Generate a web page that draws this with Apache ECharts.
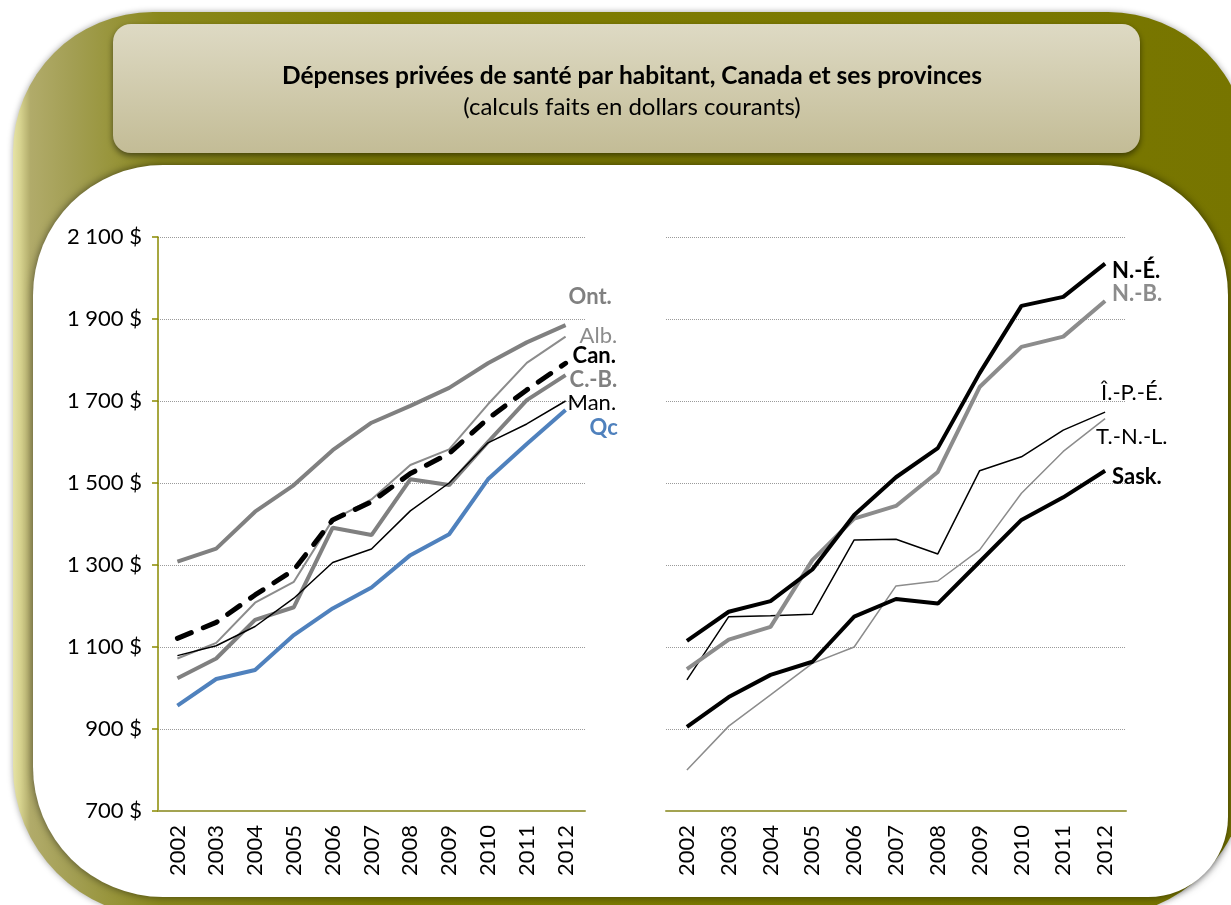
<!DOCTYPE html>
<html>
<head>
<meta charset="utf-8">
<title>Dépenses privées de santé par habitant</title>
<script src="https://cdn.jsdelivr.net/npm/echarts@6/dist/echarts.min.js"></script>
<style>
  html, body { margin: 0; padding: 0; background: #fff; }
  #main { width: 1231px; height: 905px; }
</style>
</head>
<body>
<div id="main"></div>
<script>
  // années
  const years = ['2002', '2003', '2004', '2005', '2006', '2007', '2008', '2009', '2010', '2011', '2012'];

  // graphique de gauche
  const ont = [1308, 1340, 1430, 1495, 1580, 1647, 1688, 1732, 1792, 1843, 1885];
  const alb = [1072, 1110, 1208, 1259, 1410, 1460, 1544, 1582, 1692, 1793, 1857];
  const can = [1121, 1160, 1227, 1288, 1410, 1454, 1523, 1572, 1657, 1727, 1792];
  const cb = [1024, 1072, 1166, 1197, 1391, 1373, 1509, 1495, 1600, 1702, 1763];
  const man = [1079, 1103, 1150, 1219, 1306, 1339, 1432, 1500, 1598, 1644, 1700];
  const qc = [957, 1022, 1044, 1129, 1194, 1245, 1324, 1375, 1509, 1595, 1678];

  // graphique de droite
  const ne = [1115, 1186, 1212, 1289, 1422, 1514, 1585, 1768, 1932, 1954, 2035];
  const nb = [1046, 1118, 1149, 1312, 1413, 1444, 1527, 1734, 1832, 1857, 1944];
  const ipe = [1020, 1174, 1176, 1180, 1361, 1363, 1327, 1530, 1564, 1629, 1673];
  const tnl = [800, 907, 983, 1060, 1100, 1249, 1261, 1337, 1475, 1577, 1657];
  const sask = [905, 978, 1032, 1064, 1174, 1217, 1206, 1308, 1410, 1465, 1530];

  const FONT = 'Lato';
  const olive = '#8a8a00';

  var chartDom = document.getElementById('main');
  var myChart = echarts.init(chartDom);

  function fmtDollar(v) {
    let s = v >= 1000 ? Math.floor(v / 1000) + ' ' + String(v % 1000).padStart(3, '0') : String(v);
    return s + ' $';
  }

  // une série ligne avec étiquette en bout de ligne
  function line(name, data, idx, color, width, lbl) {
    return {
      name: name,
      type: 'line',
      xAxisIndex: idx,
      yAxisIndex: idx,
      data: data,
      symbol: 'none',
      lineStyle: {
        color: color,
        width: width,
        type: lbl.dash || 'solid',
        cap: lbl.dash ? 'round' : 'butt'
      },
      endLabel: {
        show: true,
        formatter: name,
        distance: 0,
        align: 'left',
        verticalAlign: 'middle',
        offset: lbl.offset,
        color: lbl.color,
        fontFamily: FONT,
        fontSize: 22,
        fontWeight: lbl.bold ? 'bold' : 'normal'
      },
      z: lbl.z || 2
    };
  }

  function xAx(idx) {
    return {
      type: 'category',
      gridIndex: idx,
      data: years,
      boundaryGap: true,
      axisLine: { lineStyle: { color: '#a3a351', width: 2 } },
      axisTick: { show: false },
      axisLabel: { rotate: 90, margin: 14, color: '#000', fontFamily: FONT, fontSize: 22 }
    };
  }

  function yAx(idx, showAxis) {
    return {
      type: 'value',
      gridIndex: idx,
      min: 700,
      max: 2100,
      interval: 200,
      axisLine: { show: showAxis, lineStyle: { color: olive, width: 1.5 } },
      axisTick: { show: showAxis, length: 6, lineStyle: { color: olive, width: 1.5 } },
      axisLabel: {
        show: showAxis,
        margin: 16,
        color: '#000',
        fontFamily: FONT,
        fontSize: 22,
        formatter: fmtDollar
      },
      splitLine: { lineStyle: { color: '#9a9a9a', width: 1, type: [1, 1] } }
    };
  }

  var option = {
    animation: false,
    backgroundColor: '#fff',
    graphic: {
      elements: [
        {
          type: 'rect', z: -30, silent: true,
          shape: { x: 13, y: 12, width: 1235, height: 905, r: [140, 140, 150, 150] },
          style: {
            fill: new echarts.graphic.LinearGradient(0, 0, 1, 0, [
              { offset: 0, color: '#e6e3a6' },
              { offset: 0.006, color: '#d6d28e' },
              { offset: 0.014, color: '#b1ab6a' },
              { offset: 0.05, color: '#a29e52' },
              { offset: 0.12, color: '#8a881c' },
              { offset: 0.3, color: '#7f7d02' },
              { offset: 1, color: '#777500' }
            ]),
            shadowBlur: 6, shadowColor: 'rgba(0,0,0,0.35)'
          }
        },
        {
          type: 'rect', z: -20, silent: true,
          shape: { x: 33, y: 165, width: 1195, height: 732, r: [130, 130, 80, 130] },
          style: { fill: '#ffffff', shadowBlur: 8, shadowColor: 'rgba(0,0,0,0.55)' }
        },
        {
          type: 'rect', z: -10, silent: true,
          shape: { x: 113, y: 24, width: 1027, height: 129, r: 18 },
          style: {
            fill: new echarts.graphic.LinearGradient(0, 0, 0, 1, [
              { offset: 0, color: '#dedac4' },
              { offset: 1, color: '#c3bc96' }
            ]),
            shadowBlur: 6, shadowOffsetY: 3, shadowColor: 'rgba(0,0,0,0.5)'
          }
        }
      ]
    },
    title: {
      text: 'Dépenses privées de santé par habitant, Canada et ses provinces',
      subtext: '(calculs faits en dollars courants)',
      left: 627,
      top: 59,
      textAlign: 'center',
      itemGap: 6,
      textStyle: { fontFamily: FONT, fontSize: 24.5, fontWeight: 'bold', color: '#000' },
      subtextStyle: { fontFamily: FONT, fontSize: 24, color: '#000' }
    },
    grid: [
      { left: 158, right: 646, top: 237, bottom: 94 },
      { left: 666, right: 105, top: 237, bottom: 94 }
    ],
    xAxis: [xAx(0), xAx(1)],
    yAxis: [yAx(0, true), yAx(1, false)],
    series: [
      line('Ont.', ont, 0, '#808080', 4, { color: '#808080', bold: true, offset: [3, -28] }),
      line('Alb.', alb, 0, '#8c8c8c', 2, { color: '#8c8c8c', offset: [14, -1] }),
      line('C.-B.', cb, 0, '#808080', 4, { color: '#808080', bold: true, offset: [4, 5] }),
      line('Man.', man, 0, '#000000', 1.5, { color: '#000', offset: [2, 2] }),
      line('Qc', qc, 0, '#4f81bd', 4, { color: '#4f81bd', bold: true, offset: [24, 18] }),
      line('Can.', can, 0, '#000000', 5, { color: '#000', bold: true, offset: [7, -7], dash: [15, 13], z: 5 }),

      line('T.-N.-L.', tnl, 1, '#8c8c8c', 1.5, { color: '#000', offset: [-9, 18] }),
      line('Î.-P.-É.', ipe, 1, '#000000', 1.5, { color: '#000', offset: [-4, -19] }),
      line('N.-B.', nb, 1, '#8c8c8c', 4, { color: '#8c8c8c', bold: true, offset: [7, -7] }),
      line('N.-É.', ne, 1, '#000000', 4, { color: '#000', bold: true, offset: [7, 7] }),
      line('Sask.', sask, 1, '#000000', 4, { color: '#000', bold: true, offset: [7, 6] })
    ]
  };

  option && myChart.setOption(option);

  window.addEventListener('resize', () => {
    myChart.resize();
  });
</script>
</body>
</html>
